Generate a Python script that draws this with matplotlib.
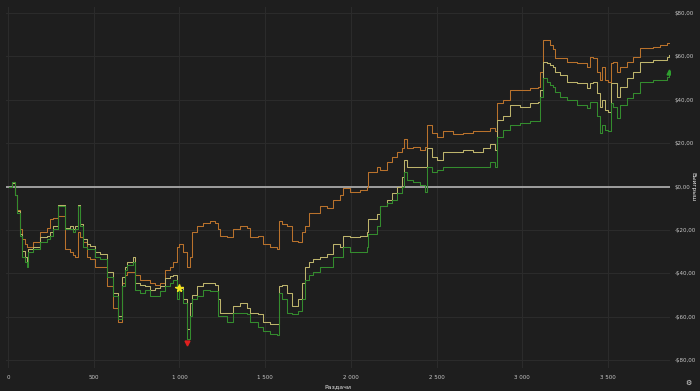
import matplotlib
matplotlib.use('Agg')
import matplotlib.pyplot as plt
from matplotlib.ticker import FixedLocator

# Раздачи (общая ось X для трёх кривых)
hands = [6, 23, 41, 53, 70, 82, 99, 111, 117, 146, 187, 228, 245, 263, 292, 303, 321, 333, 362, 379,
         391, 408, 420, 438, 461, 478, 508, 537, 578, 613, 642, 665, 683, 694, 729, 741, 770, 799, 828, 858,
         887, 916, 945, 963, 986, 998, 1021, 1044, 1062, 1073, 1103, 1138, 1178, 1208, 1225, 1237, 1278, 1313, 1354, 1394,
         1412, 1459, 1488, 1529, 1569, 1581, 1599, 1628, 1657, 1692, 1715, 1733, 1756, 1779, 1820, 1861, 1896, 1937, 1954, 1995,
         2054, 2094, 2100, 2153, 2170, 2211, 2240, 2269, 2299, 2310, 2328, 2363, 2404, 2433, 2445, 2474, 2503, 2538, 2596, 2654,
         2713, 2771, 2812, 2841, 2853, 2888, 2929, 2987, 3045, 3092, 3104, 3121, 3145, 3162, 3180, 3191, 3220, 3261, 3320, 3378,
         3396, 3413, 3436, 3454, 3466, 3483, 3500, 3518, 3530, 3553, 3571, 3612, 3646, 3687, 3728, 3763, 3804, 3845, 3857]

# Выигрыш, $ (верхняя — оранжевая)
win_orange = [0, 1.8, -3.7, -10.6, -19.8, -24.4, -26.7, -27.7, -27.7, -25.4, -21.2, -18.9, -15.2, -14.3, -13.8, -13.8, -13.8, -29, -30.4, -31.8,
              -32.7, -21.2, -23.5, -25.8, -32.7, -33.6, -36.9, -37.3, -46.1, -55.8, -62.7, -44.3, -40.6, -39.6, -39.6, -40.6, -42.9, -43.3, -44.7, -45.2,
              -44.3, -38.3, -36.9, -34.6, -27.7, -26.7, -30.4, -36.9, -32.3, -21.2, -18.4, -16.6, -16.1, -16.6, -19.8, -23, -23.5, -19.8, -18.4, -18.9,
              -23.5, -23, -26.7, -28.1, -28.6, -16.1, -17.5, -18.4, -24.9, -25.8, -21.2, -18.4, -12, -12, -9.2, -9.7, -6, -3.7, -0.5, -2.3,
              -1.4, 0, 6.9, 9.2, 7.8, 11.1, 13.4, 15.7, 18, 21.7, 18, 18.4, 17, 18.4, 28.6, 24.9, 23, 25.4, 24, 24.9,
              25.4, 25.4, 27.2, 25.4, 38.7, 40.1, 44.7, 44.7, 45.6, 46.1, 52.6, 67.7, 67.7, 65.5, 63.2, 59.5, 59.5, 57.6, 57.1, 55.3,
              59.9, 59.5, 52.6, 49.3, 55.3, 49.3, 48.4, 57.1, 57.6, 52.6, 55.3, 57.6, 59.9, 64.1, 64.1, 64.5, 65.5, 66.4, 66.4]

# средняя — жёлтая
win_yellow = [0, 1.8, -3.7, -11.5, -22.1, -29.9, -32.7, -34.6, -29, -27.7, -23.5, -22.6, -21.2, -18.4, -8.3, -8.3, -8.3, -18.9, -18.4, -19.8,
              -18.4, -8.3, -17.5, -24.4, -26.7, -27.2, -30, -31.3, -39.6, -48.9, -59.9, -41.5, -36.9, -34.6, -32.7, -44.3, -45.6, -46.1, -47.5, -46.6,
              -46.1, -42, -41.1, -40.6, -46.1, -47, -52.1, -65.9, -53.5, -49.8, -46.1, -44.3, -44.7, -45.2, -52.1, -58.1, -58.1, -55.3, -53.5, -55.8,
              -58.1, -59, -62.7, -63.6, -63.6, -46.1, -45.2, -48.9, -55.3, -52.1, -44.3, -36.9, -35, -33.6, -32.3, -31.3, -26.7, -28.1, -23, -23.5,
              -23, -21.2, -15.2, -12.9, -9.2, -6, -2.8, 0, 4.6, 12.4, 9.2, 9.2, 8.8, 8.8, 18, 13.8, 12.4, 15.7, 16.1, 17,
              16.1, 18, 19.4, 17, 30.9, 32.3, 37.8, 36.9, 38.7, 39.2, 44.7, 57.6, 57.1, 56.2, 55.3, 52.6, 51.6, 48.4, 47.9, 45.6,
              47.9, 48.4, 43.3, 36.9, 40.1, 35.5, 34.6, 47.9, 47.9, 41.5, 46.1, 50.2, 52.6, 57.6, 57.6, 58.5, 58.5, 59.9, 60.8]

# нижняя — зелёная
win_green = [0, 2.3, -3.7, -12, -23, -32.3, -34.6, -36.9, -30.4, -29, -25.4, -24.4, -23, -19.8, -9.2, -9.2, -9.2, -19.8, -19.8, -21.2,
             -19.8, -9.2, -18.4, -27.7, -29, -29, -32.7, -33.6, -41.5, -50.7, -61.3, -46.1, -38.3, -36.4, -35, -47.5, -48.9, -47.5, -50.7, -50.7,
             -48.4, -46.1, -44.3, -42.9, -52.1, -47.5, -53.5, -70.5, -59.9, -52.1, -50.7, -47.5, -48.4, -48.4, -59.9, -59.9, -62.7, -58.1, -58.1, -59,
             -62.7, -65, -66.8, -68.2, -68.7, -48.9, -52.1, -58.1, -59, -57.6, -52.1, -42.9, -40.6, -39.6, -36.9, -37.3, -32.3, -32.7, -28.1, -30,
             -30, -28.1, -22.1, -18.4, -9.2, -7.4, -6, -2.8, 0, 6.5, 3.2, 2.3, 0.9, -2.3, 9.2, 6.5, 7.8, 9.2, 8.8, 9.2,
             9.2, 9.2, 11.1, 9.2, 23, 26.3, 28.6, 29.5, 30, 30, 41.5, 50.2, 48.4, 47, 46.1, 43.8, 41.5, 40.1, 37.8, 36.4,
             39.2, 39.2, 32.3, 24.9, 28.6, 26.3, 25.4, 38.7, 36.9, 31.8, 37.8, 41, 43.3, 48.4, 48.4, 49.3, 49.3, 50.7, 52.5]

x_ticks = [0, 500, 1000, 1500, 2000, 2500, 3000, 3500]
x_labels = ['0', '500', '1 000', '1 500', '2 000', '2 500', '3 000', '3 500']
y_ticks = [-80, -60, -40, -20, 0, 20, 40, 60, 80]
y_labels = ['-$80,00', '-$60,00', '-$40,00', '-$20,00', '$0,00', '$20,00', '$40,00', '$60,00', '$80,00']

bg = '#1e1e1e'
txt = '#c8c8c8'

fig = plt.figure(figsize=(7, 3.91), dpi=100, facecolor=bg)
ax = fig.add_axes([0.0086, 0.0588, 0.9486, 0.9233], facecolor=bg)

ax.axhline(0, color='#a8a8a8', linewidth=1.3, zorder=2)
ax.plot(hands, win_orange, color='#b9722c', linewidth=0.75, drawstyle='steps-post', zorder=3)
ax.plot(hands, win_yellow, color='#bdb46c', linewidth=0.75, drawstyle='steps-post', zorder=4)
ax.plot(hands, win_green, color='#348c2e', linewidth=0.75, drawstyle='steps-post', zorder=5)

# маркеры: звезда, минимум, последняя точка
ax.plot(998, -47, marker='*', color='#f2e21e', markersize=5.5, linestyle='none', zorder=6)
ax.plot(1044, -72, marker='v', color='#e0201e', markersize=3.5, linestyle='none', zorder=6)
ax.plot(3857, 53, marker='^', color='#2fa02f', markersize=3.5, linestyle='none', zorder=6)

ax.set_xlim(-12, 3862)
ax.set_ylim(-83.7, 82.8)
ax.xaxis.set_major_locator(FixedLocator(x_ticks))
ax.set_xticklabels(x_labels)
ax.yaxis.set_major_locator(FixedLocator(y_ticks))
ax.set_yticklabels(y_labels)
ax.yaxis.tick_right()
ax.tick_params(axis='both', length=0, labelsize=4.0, colors=txt)
ax.tick_params(axis='x', pad=5)
ax.tick_params(axis='y', pad=3.5)
ax.grid(True, color='#2c2c2c', linewidth=0.7)
ax.set_axisbelow(True)
for s in ax.spines.values():
    s.set_visible(False)

ax.set_xlabel('Раздачи', color='#e6e6e6', fontsize=4.5, labelpad=3)
fig.text(0.99, 0.522, 'Выигрыш', color='#e6e6e6', fontsize=4.2, rotation=270,
         ha='center', va='center')

fig.text(0.983, 0.012, '⚙', color='#e6e6e6', fontsize=5, ha='center', va='bottom')

fig.savefig('out.png', dpi=100, facecolor=bg)
plt.close(fig)
